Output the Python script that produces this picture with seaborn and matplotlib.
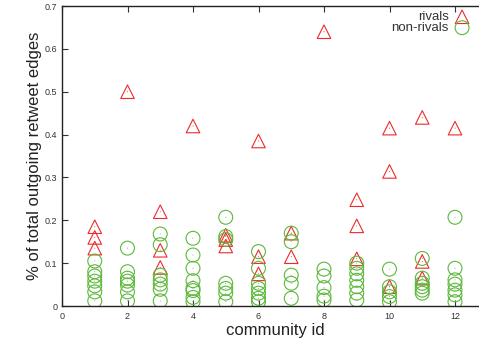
import seaborn as sns
import matplotlib.pyplot as plt
import pandas as pd

# データ
communities = list(range(1, 13))
rivals = [
    [0.185, 0.16, 0.135],
    [0.50],
    [0.22, 0.13, 0.09],
    [0.42],
    [0.165, 0.155, 0.14],
    [0.385, 0.115, 0.075],
    [0.17, 0.115],
    [0.64],
    [0.248, 0.187, 0.11],
    [0.415, 0.314, 0.045],
    [0.44, 0.104, 0.065],
    [0.415],
]
non_rivals = [
    [0.105, 0.08, 0.07, 0.058, 0.047, 0.033, 0.012],
    [0.135, 0.08, 0.065, 0.058, 0.049, 0.033, 0.012],
    [0.168, 0.143, 0.072, 0.061, 0.051, 0.039, 0.012],
    [0.158, 0.119, 0.088, 0.059, 0.041, 0.036, 0.02, 0.01],
    [0.207, 0.162, 0.155, 0.053, 0.041, 0.03, 0.01],
    [0.127, 0.088, 0.053, 0.041, 0.03, 0.018, 0.01],
    [0.17, 0.15, 0.072, 0.053, 0.018],
    [0.086, 0.07, 0.043, 0.023, 0.014],
    [0.1, 0.088, 0.075, 0.06, 0.045, 0.03, 0.014],
    [0.086, 0.045, 0.033, 0.022, 0.01],
    [0.111, 0.065, 0.053, 0.045, 0.037, 0.03],
    [0.207, 0.088, 0.061, 0.051, 0.037, 0.026, 0.01],
]

rows = []
for c, vals in zip(communities, rivals):
    rows += [{'community': c, 'value': v, 'kind': 'rivals'} for v in vals]
for c, vals in zip(communities, non_rivals):
    rows += [{'community': c, 'value': v, 'kind': 'non-rivals'} for v in vals]
df = pd.DataFrame(rows)

sns.set_style('ticks')
plt.rcParams['font.family'] = ['Liberation Sans', 'DejaVu Sans']

red = '#ee2a2a'
green = '#5cb83a'

fig = plt.figure(figsize=(4.79, 3.43), dpi=100)
ax = fig.add_axes([62 / 479, 37 / 343, 13 * 32.75 / 479, 300 / 343])

sns.scatterplot(data=df[df['kind'] == 'rivals'], x='community', y='value', ax=ax,
                marker='^', s=95, facecolors='none', edgecolor=red, linewidth=0.8,
                label='rivals')
sns.scatterplot(data=df[df['kind'] == 'non-rivals'], x='community', y='value', ax=ax,
                marker='o', s=100, facecolors='none', edgecolor=green, linewidth=0.8,
                label='non-rivals')
# 中心の点
sns.scatterplot(data=df, x='community', y='value', hue='kind', palette={'rivals': red, 'non-rivals': green},
                ax=ax, marker='.', s=2, linewidth=0, legend=False)

ax.set_xlim(0, 13)
ax.set_ylim(0, 0.7)
ax.set_xticks(range(0, 13, 2))
ax.set_yticks([0, 0.1, 0.2, 0.3, 0.4, 0.5, 0.6, 0.7])
ax.set_yticklabels(['0', '0.1', '0.2', '0.3', '0.4', '0.5', '0.6', '0.7'])
ax.tick_params(direction='in', length=4, width=0.8, labelsize=6.5, top=True, right=False, colors='#333333')
ax.tick_params(axis='x', pad=4)
for sp in ax.spines.values():
    sp.set_linewidth(1)
    sp.set_color('#222222')
ax.spines['right'].set_visible(False)

ax.set_xlabel('community id', fontsize=12, color='#222222', labelpad=2)
ax.set_ylabel('% of total outgoing retweet edges', fontsize=12, color='#222222', labelpad=2)

ax.legend(loc='upper right', bbox_to_anchor=(470 / 479, 1 - 11 / 343), bbox_transform=fig.transFigure,
          frameon=False, markerfirst=False, fontsize=9.5, handletextpad=0.4, labelspacing=-0.1,
          borderpad=0, borderaxespad=0, handlelength=1.2, labelcolor='#333333')

fig.savefig('out.png', dpi=100)
